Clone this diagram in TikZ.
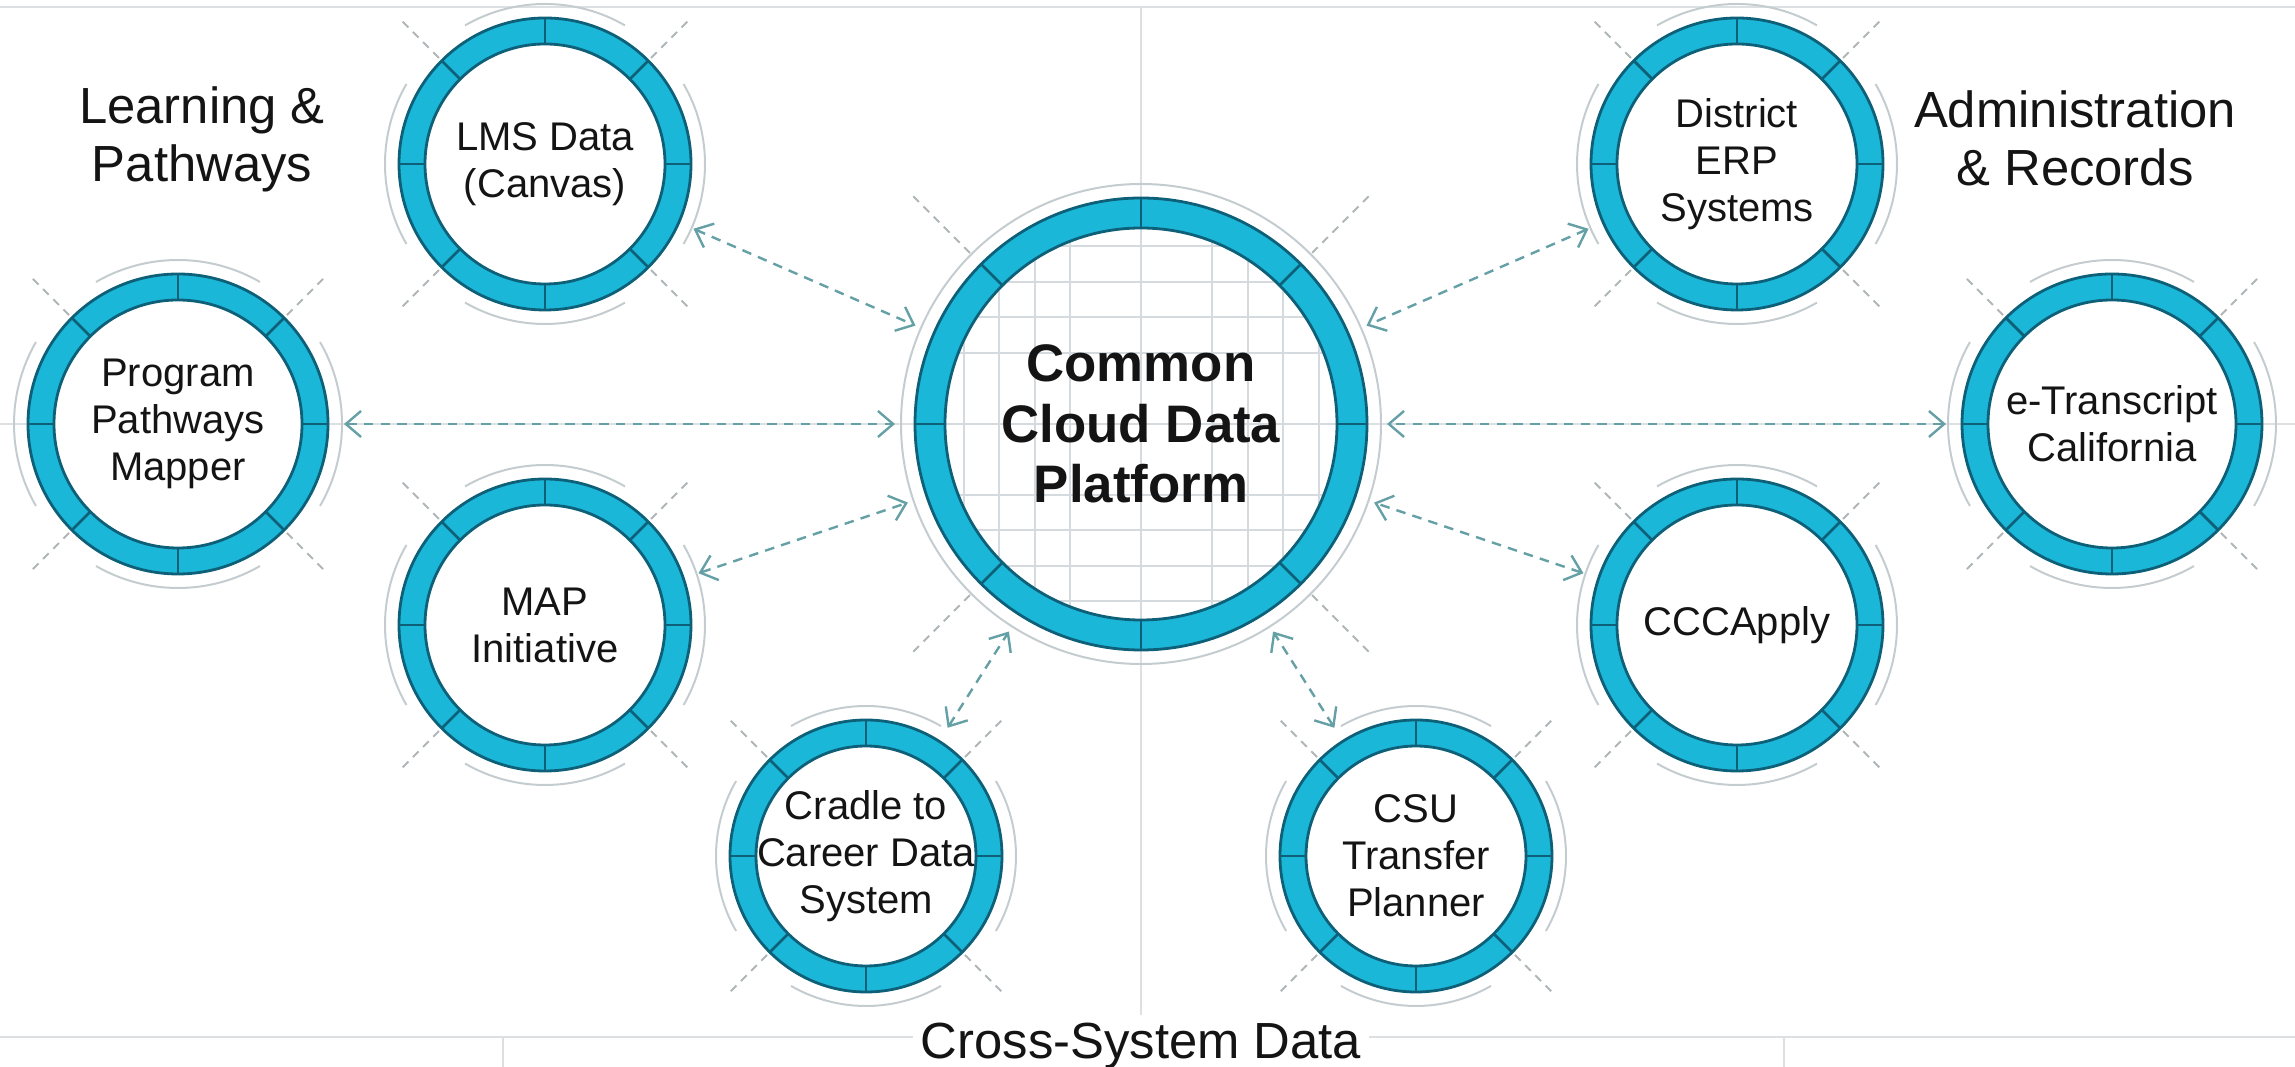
\documentclass[tikz,border=0pt]{standalone}
\usepackage{fontspec}
\setmainfont{Liberation Sans}
\usetikzlibrary{arrows.meta,backgrounds}

\definecolor{ringfill}{RGB}{27,183,217}
\definecolor{ringedge}{RGB}{14,96,120}
\definecolor{halogray}{RGB}{196,204,208}
\definecolor{linkteal}{RGB}{100,160,165}
\definecolor{gridgray}{RGB}{212,218,222}
\definecolor{rulegray}{RGB}{220,224,226}
\definecolor{textdark}{RGB}{20,20,20}

\tikzset{
  hub/.style={circle,inner sep=0pt,outer sep=0pt,align=center,text=textdark,
    font=\fontsize{10}{11.75}\selectfont,minimum size=#1},
  heading/.style={align=center,text=textdark,font=\fontsize{12.7}{14.5}\selectfont},
  ringline/.style={draw=ringedge,line width=0.7pt},
  halo/.style={draw=halogray,line width=0.5pt},
  tick/.style={draw=halogray!70!gray,line width=0.5pt,dash pattern=on 2pt off 1.6pt},
  gridline/.style={draw=gridgray,line width=0.5pt},
  rule/.style={draw=rulegray,line width=0.6pt},
  link/.style={draw=linkteal,line width=0.6pt,dash pattern=on 2.4pt off 1.8pt,
    {Straight Barb[length=3.8pt,width=6.5pt]}-{Straight Barb[length=3.8pt,width=6.5pt]}}
}

% ring round a hub: #1 node name, #2 outer radius (px)
\newcommand{\hubring}[2]{%
  \begin{scope}[shift={(#1.center)}]
    \fill[ringfill,even odd rule] (0,0) circle (#2) (0,0) circle (#2-26);
    \draw[ringline] (0,0) circle (#2) (0,0) circle (#2-26);
    \foreach \a in {0,45,...,315}
      \draw[ringline] (\a:#2-26) -- (\a:#2);
    \foreach \a in {0,90,180,270}
      \draw[halo] (\a-30:#2+14) arc[start angle=\a-30,end angle=\a+30,radius=#2+14];
    \foreach \a in {45,135,225,315}
      \draw[tick] (\a:#2+4) -- (\a:#2+58);
  \end{scope}}

\begin{document}
\begin{tikzpicture}[x=0.25pt,y=-0.25pt]
  \useasboundingbox (0,0) rectangle (2295,1067);

  \node[hub=123pt,font=\bfseries\fontsize{13.2}{15.2}\selectfont] (core) at (1141,424) {Common\\Cloud Data\\Platform};

  \node[hub=81pt] (lms) at (545,164) {LMS Data\\(Canvas)};
  \node[hub=83pt] (ppm) at (178,424) {Program\\Pathways\\Mapper};
  \node[hub=81pt] (map) at (545,625) {MAP\\Initiative};
  \node[hub=76pt] (c2c) at (866,856) {Cradle to\\Career Data\\System};
  \node[hub=76pt] (csu) at (1416,856) {CSU\\Transfer\\Planner};
  \node[hub=81pt] (ccc) at (1737,625) {CCCApply};
  \node[hub=81pt] (erp) at (1737,164) {District\\ERP\\Systems};
  \node[hub=83pt] (etr) at (2112,424) {e-Transcript\\California};

  \node[heading] (learn) at (202,139) {Learning \&\\Pathways};
  \node[heading] (admin) at (2075,138) {Administration\\\& Records};

  \begin{scope}[on background layer]
    \draw[rule] (0,7) -- (2295,7);
    \draw[rule] (0,424) -- (2295,424);
    \draw[rule] (1141,7) -- (1141,1067);
    \draw[rule] (0,1037) -- (2295,1037);
    \draw[rule] (503,1037) -- (503,1067);
    \draw[rule] (1784,1037) -- (1784,1067);
    \foreach \hub/\r in {lms/146,ppm/150,map/146,c2c/136,csu/136,ccc/146,erp/146,etr/150}
      \fill[white] (\hub.center) circle (\r);
    \begin{scope}[shift={(core.center)}]
      \fill[white] (0,0) circle (226);
      \clip (0,0) circle (197);
      \foreach \k in {-5,-4,-3,-2,0,2,3,4,5} {
        \draw[gridline] (\k*35.5,-210) -- (\k*35.5,210);
        \draw[gridline] (-210,\k*35.5) -- (210,\k*35.5);
      }
    \end{scope}
  \end{scope}

  \node[heading,fill=white,inner sep=2pt] (cross) at (1141,1046) {Cross-System Data};

  % core ring
  \begin{scope}[shift={(core.center)}]
    \fill[ringfill,even odd rule] (0,0) circle (226) (0,0) circle (196);
    \draw[ringline] (0,0) circle (226) (0,0) circle (196);
    \foreach \a in {0,45,...,315}
      \draw[ringline] (\a:196) -- (\a:226);
    \draw[halo] (0,0) circle (240);
    \foreach \a in {45,135,225,315}
      \draw[tick] (\a:242) -- (\a:325);
  \end{scope}

  \foreach \hub/\r in {lms/146,ppm/150,map/146,c2c/136,csu/136,ccc/146,erp/146,etr/150}
    \hubring{\hub}{\r};

  \foreach \hub in {lms,ppm,map,c2c,csu,ccc,erp,etr}
    \draw[link] (\hub) -- (core);

\end{tikzpicture}
\end{document}
